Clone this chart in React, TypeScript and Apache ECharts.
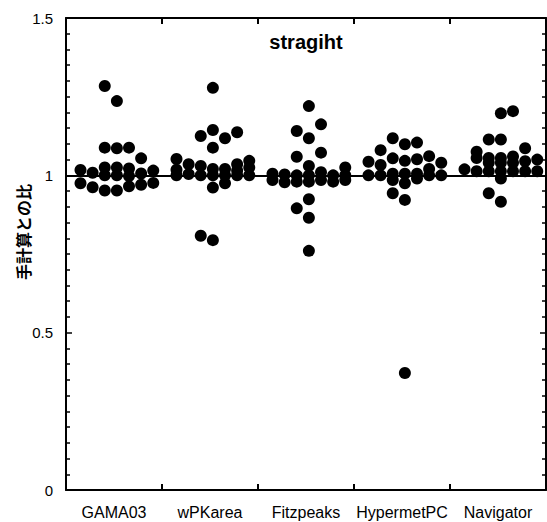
import React, { useEffect, useRef } from "react";
import * as echarts from "echarts";

// ---- data ----
const categories = ["GAMA03", "wPKarea", "Fitzpeaks", "HypermetPC", "Navigator"];

// values per swarm column (columns -3 .. 3, left to right)
const gama03 = [
  [1.017, 0.975],
  [1.008, 0.962],
  [1.284, 1.088, 1.025, 1.0, 0.952],
  [1.236, 1.086, 1.025, 1.0, 0.952],
  [1.088, 1.022, 0.998, 0.965],
  [1.054, 1.006, 0.97],
  [1.015, 0.976],
];
const wpkarea = [
  [1.052, 1.018, 1.0],
  [1.035, 1.004],
  [1.125, 1.03, 1.0, 0.808],
  [1.278, 1.144, 1.088, 1.02, 1.0, 0.961, 0.794],
  [1.118, 1.02, 1.0, 0.975],
  [1.137, 1.035, 1.015, 1.0],
  [1.046, 1.025, 1.0],
];
const fitzpeaks = [
  [1.005, 0.985],
  [1.003, 0.978],
  [1.141, 1.059, 1.0, 0.98, 0.895],
  [1.22, 1.118, 1.03, 1.0, 0.98, 0.924, 0.865, 0.76],
  [1.162, 1.072, 1.01, 0.985],
  [1.0, 0.98],
  [1.025, 1.0, 0.985],
];
const hypermetpc = [
  [1.043, 1.0],
  [1.08, 1.033, 1.0],
  [1.118, 1.054, 1.005, 0.985, 0.943],
  [1.099, 1.046, 1.005, 0.975, 0.922, 0.372],
  [1.104, 1.051, 1.005, 0.99],
  [1.061, 1.02, 1.0],
  [1.04, 1.0],
];
const navigator = [
  [1.019],
  [1.075, 1.055, 1.013],
  [1.114, 1.055, 1.04, 1.013, 0.943],
  [1.197, 1.114, 1.055, 1.04, 1.013, 0.99, 0.916],
  [1.204, 1.06, 1.04, 1.013],
  [1.086, 1.045, 1.013],
  [1.05, 1.013],
];
const groups = [gama03, wpkarea, fitzpeaks, hypermetpc, navigator];
const referenceValue = 1;
const titleText = "stragiht";
const yTitle = "手計算との比";

// ---- layout ----
const COL_STEP = 0.1263; // swarm column spacing in category units
const COL_SHIFT = 0.03;
const FONT = '"Liberation Sans", Arial, sans-serif';

export default function App() {
  const ref = useRef<HTMLDivElement>(null);

  useEffect(() => {
    if (!ref.current) return;
    const chart = echarts.init(ref.current, undefined, { renderer: "svg" });

    const points: number[][] = [];
    groups.forEach((cols, ci) => {
      cols.forEach((vals, k) => {
        const col = k - 3;
        vals.forEach((v) => {
          points.push([ci + 0.5 + COL_SHIFT + col * COL_STEP, v]);
        });
      });
    });

    const valueX = (position: "top" | "bottom") => ({
      type: "value",
      min: 0,
      max: 5,
      interval: 1,
      position,
      axisLine: { show: true, onZero: false, lineStyle: { color: "#000", width: 2 } },
      axisTick: { show: true, inside: true, length: 6, lineStyle: { color: "#000", width: 2 } },
      axisLabel: { show: false },
      splitLine: { show: false },
    });

    const valueY = (position: "left" | "right", labels: boolean) => ({
      type: "value",
      min: 0,
      max: 1.5,
      interval: 0.5,
      position,
      axisLine: { show: true, onZero: false, lineStyle: { color: "#000", width: 2 } },
      axisTick: { show: true, inside: true, length: 6, lineStyle: { color: "#000", width: 1.5 } },
      minorTick: { show: true, splitNumber: 10, length: 4, lineStyle: { color: "#000", width: 1.5 } },
      axisLabel: {
        show: labels,
        margin: 13,
        fontSize: 15,
        color: "#000",
        fontFamily: FONT,
      },
      splitLine: { show: false },
      minorSplitLine: { show: false },
    });

    chart.setOption({
      animation: false,
      backgroundColor: "#fff",
      grid: { left: 66, right: 1, top: 18, bottom: 32, containLabel: false },
      xAxis: [
        valueX("bottom"),
        valueX("top"),
        {
          type: "category",
          data: categories,
          position: "bottom",
          axisLine: { show: false },
          axisTick: { show: false },
          axisLabel: { interval: 0, margin: 14, fontSize: 16, color: "#000", fontFamily: FONT },
        },
      ],
      yAxis: [valueY("left", true), valueY("right", false)],
      graphic: [
        {
          type: "text",
          x: 306,
          y: 42,
          style: {
            text: titleText,
            fontSize: 20,
            fontWeight: "bold",
            fontFamily: FONT,
            fill: "#000",
            align: "center",
            verticalAlign: "middle",
          },
        },
        {
          type: "text",
          x: 23,
          y: 232,
          rotation: Math.PI / 2,
          style: {
            text: yTitle,
            fontSize: 16,
            fontWeight: "bold",
            fontFamily: '"Noto Sans CJK JP", sans-serif',
            fill: "#000",
            align: "center",
            verticalAlign: "middle",
          },
        },
      ],
      series: [
        {
          type: "scatter",
          xAxisIndex: 0,
          yAxisIndex: 0,
          data: points,
          symbol: "circle",
          symbolSize: 12,
          itemStyle: { color: "#000", opacity: 1 },
          markLine: {
            silent: true,
            symbol: ["none", "none"],
            label: { show: false },
            lineStyle: { color: "#000", width: 2, type: "solid" },
            data: [{ yAxis: referenceValue }],
          },
        },
      ],
    });

    return () => chart.dispose();
  }, []);

  return (
    <div
      ref={ref}
      style={{ position: "absolute", left: 0, top: 0, width: 547, height: 522, background: "#fff" }}
    />
  );
}
